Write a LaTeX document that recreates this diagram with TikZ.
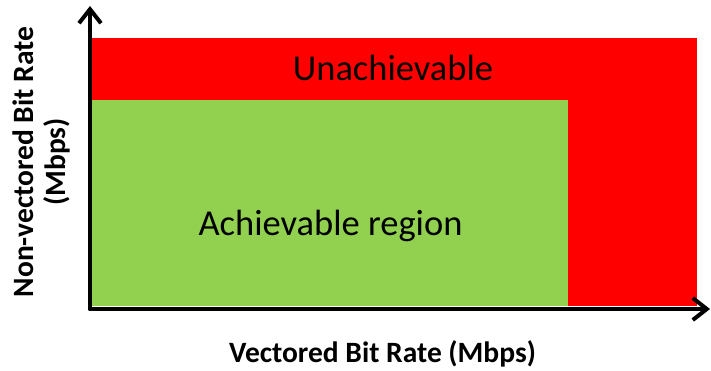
\documentclass[tikz,border=0pt]{standalone}
\usepackage{fontspec}
\setmainfont{Carlito}
\usetikzlibrary{arrows.meta}
\definecolor{unreach}{HTML}{FF0000}
\definecolor{reach}{HTML}{92D050}

\begin{document}
\begin{tikzpicture}[line cap=round,line join=round,x=1pt,y=-1pt,
    axis/.style={line width=4pt, -{Straight Barb[length=14pt,width=22pt]}},
    region/.style={font=\fontsize{36.5}{42}\selectfont, anchor=base},
    axlabel/.style={font=\fontsize{29.5}{32}\selectfont\bfseries, align=center}]
                    \useasboundingbox (0,0) rectangle (711,371);

                    \fill[unreach] (92,38) rectangle (697,306);
                    \fill[reach] (92,100) rectangle (568,306);

                    \node[region] (unach) at (393,81) {Unachievable};
                    \node[region] (ach) at (330.5,236) {Achievable region};

                    \coordinate (o) at (90,309);
                    \coordinate (ytip) at (90,6);
                    \coordinate (xtip) at (710,309);
                    \draw[axis] (o) -- (ytip);
                    \draw[axis] (o) -- (xtip);

                    \node[axlabel, anchor=base] (xlab) at (382.5,362) {Vectored Bit Rate (Mbps)};
                    \node[axlabel, rotate=90, anchor=center] (ylab) at (41,162) {Non-vectored Bit Rate\\(Mbps)};
                \end{tikzpicture}
\end{document}
